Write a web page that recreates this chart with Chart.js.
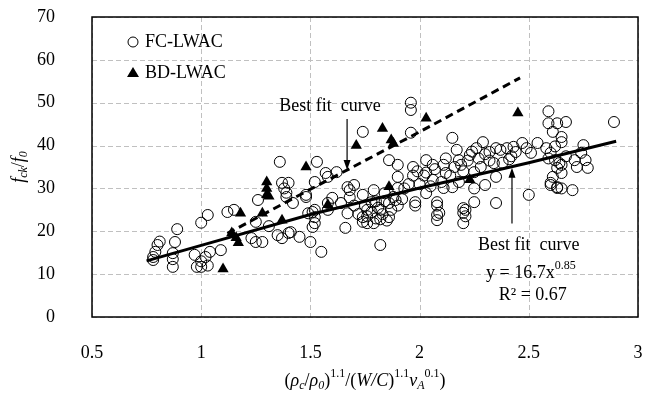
<!DOCTYPE html>
<html>
<head>
<meta charset="utf-8">
<script src="https://cdn.jsdelivr.net/npm/chart.js@4.4.1/dist/chart.umd.min.js"></script>
<style>
  html, body { margin: 0; padding: 0; background: #fff; }
  #wrap { width: 658px; height: 399px; }
</style>
</head>
<body>
<div id="wrap"><canvas id="fcChart" width="658" height="399"></canvas></div>
<script>
/* ===== f_ck/f_0 scatter with best fit curves ===== */

// FC-LWAC (open circles)
const fcX = [
  0.78, 0.79, 0.80, 0.81, 0.78, 0.87, 0.87, 0.88, 0.89, 0.87, 1.00, 1.03, 0.97, 0.98, 1.00, 1.03, 1.02, 1.04, 1.00, 1.09,
  1.12, 1.15, 1.25, 1.26, 1.23, 1.25, 1.28, 1.31, 1.35, 1.37, 1.40, 1.41, 1.38, 1.39, 1.39, 1.37, 1.40, 1.42, 1.45, 1.48,
  1.36, 1.53, 1.52, 1.58, 1.62, 1.57, 1.48, 1.52, 1.52, 1.52, 1.49, 1.50, 1.55, 1.51, 1.51, 1.58, 1.58, 1.60, 1.64, 1.66,
  1.67, 1.68, 1.68, 1.70, 1.74, 1.74, 1.74, 1.76, 1.76, 1.78, 1.79, 1.79, 1.82, 1.82, 1.82, 1.84, 1.86, 1.86, 1.89, 1.90,
  1.98, 1.98, 2.03, 2.08, 2.08, 2.08, 2.08, 2.09, 2.11, 2.15, 2.20, 2.20, 2.20, 2.21, 2.21, 2.25, 2.35, 2.30, 2.25, 2.50,
  2.60, 2.63, 2.65, 2.70, 1.70, 1.72, 1.75, 1.76, 1.78, 1.80, 1.80, 1.81, 1.83, 1.84, 1.85, 1.87, 1.88, 1.90, 1.92, 1.93,
  1.95, 1.97, 1.99, 1.74, 1.96, 1.96, 1.96, 2.15, 1.97, 2.03, 2.06, 2.03, 2.11, 2.12, 2.17, 2.18, 2.19, 2.23, 2.26, 2.29,
  2.25, 2.32, 2.34, 2.35, 2.35, 2.40, 2.44, 1.86, 1.90, 1.90, 2.06, 2.00, 2.02, 2.05, 2.07, 2.10, 2.12, 2.14, 2.16, 2.18,
  2.20, 2.22, 2.24, 2.27, 2.28, 2.30, 2.32, 2.37, 2.38, 2.41, 2.42, 2.59, 2.59, 2.63, 2.67, 2.61, 2.65, 2.65, 2.89, 2.43,
  2.47, 2.49, 2.51, 2.54, 2.58, 2.60, 2.62, 2.64, 2.65, 2.63, 2.65, 2.61, 2.60, 2.63, 2.74, 2.75, 2.72, 2.77, 2.76, 2.71,
  2.67, 2.59, 2.62, 1.67
];
const fcY = [
  13.3, 15.2, 16.8, 17.6, 14.0, 14.9, 11.7, 17.5, 20.5, 13.5, 22.0, 23.8, 14.5, 11.7, 11.7, 12.0, 14.0, 15.2, 13.0, 15.6,
  24.5, 25.0, 22.2, 27.3, 18.4, 17.5, 17.5, 21.2, 19.1, 18.4, 19.6, 19.8, 30.0, 29.0, 28.0, 31.3, 31.3, 26.6, 18.7, 28.5,
  36.2, 36.2, 31.5, 32.7, 33.8, 33.6, 28.0, 25.0, 23.3, 21.9, 24.2, 17.5, 15.2, 21.0, 24.5, 26.6, 25.0, 27.8, 26.6, 20.8,
  24.2, 29.6, 27.9, 30.8, 28.5, 23.3, 22.2, 25.0, 21.9, 26.8, 29.6, 21.9, 16.8, 25.0, 22.8, 28.9, 26.6, 23.3, 27.3, 30.1,
  26.8, 26.0, 28.9, 26.8, 26.0, 23.8, 22.6, 24.3, 30.1, 30.3, 25.4, 21.9, 24.3, 25.0, 23.5, 26.8, 26.6, 30.8, 30.0, 28.5,
  30.8, 30.1, 30.0, 29.6, 26.0, 24.0, 26.0, 23.5, 24.5, 27.0, 23.0, 25.5, 24.0, 27.0, 22.5, 25.0, 28.0, 26.0, 27.5, 30.0,
  31.0, 33.0, 34.0, 43.2, 50.0, 48.3, 43.0, 41.8, 35.0, 36.6, 35.5, 33.7, 35.5, 33.6, 39.0, 36.6, 35.5, 37.8, 39.4, 40.8,
  33.8, 38.5, 35.9, 39.4, 32.7, 39.4, 38.5, 36.6, 35.5, 32.7, 32.0, 31.0, 33.0, 30.5, 34.5, 31.5, 37.0, 33.0, 35.0, 31.5,
  34.0, 36.5, 38.6, 37.0, 35.0, 38.0, 36.5, 39.0, 36.0, 36.8, 37.5, 48.0, 45.2, 45.2, 45.5, 43.2, 42.0, 40.8, 45.5, 39.7,
  40.6, 39.4, 38.3, 40.6, 39.4, 38.3, 36.6, 35.9, 35.5, 34.8, 33.6, 32.7, 31.3, 30.3, 38.3, 40.1, 35.0, 34.8, 36.6, 36.6,
  37.5, 37.0, 39.8, 30.3
];

// BD-LWAC (filled triangles)
const bdX = [1.10, 1.14, 1.17, 1.16, 1.18, 1.28, 1.30, 1.30, 1.30, 1.31, 1.37, 1.48, 1.58, 1.71, 1.83, 1.87, 1.88, 1.86, 2.03, 2.23, 2.45];
const bdY = [11.2, 19.6, 17.3, 18.5, 24.2, 24.2, 31.5, 30.0, 28.5, 28.2, 22.6, 35.0, 26.2, 40.0, 44.0, 41.3, 40.5, 30.4, 46.4, 32.0, 47.6];

// best fit curve for all data (solid)
const fitX = [0.75, 1.0, 1.5, 2.0, 2.5, 2.9];
const fitY = [13.1, 16.7, 23.9, 30.1, 36.0, 41.0];

// best fit curve for BD-LWAC (dashed)
const bdFitX = [1.12, 1.5, 2.0, 2.46];
const bdFitY = [19.5, 29.8, 43.2, 55.8];

const xTicks = [0.5, 1, 1.5, 2, 2.5, 3];
const yTicks = [0, 10, 20, 30, 40, 50, 60, 70];

const SERIF = '"Liberation Serif", "Times New Roman", serif';

function toPoints(xs, ys) {
  return xs.map((x, i) => ({ x: x, y: ys[i] }));
}

// mixed text segments: [text, italic, pos] with pos 0 base, -1 sub, 1 sup
function fontFor(s) {
  const size = s[2] ? 12 : 18;
  return (s[1] ? 'italic ' : '') + size + 'px ' + SERIF;
}
function richWidth(ctx, segs) {
  let w = 0;
  segs.forEach(s => {
    ctx.font = fontFor(s);
    w += ctx.measureText(s[0]).width;
  });
  return w;
}
function drawRich(ctx, segs, cx, cy) {
  let x = cx - richWidth(ctx, segs) / 2;
  ctx.textAlign = 'left';
  ctx.textBaseline = 'middle';
  segs.forEach(s => {
    ctx.font = fontFor(s);
    const dy = s[2] === 1 ? -7 : (s[2] === -1 ? 5 : 0);
    ctx.fillText(s[0], x, cy + dy);
    x += ctx.measureText(s[0]).width;
  });
}

function arrow(ctx, x, y1, y2) {
  // line from y1 to y2 with head at y2
  const dir = y2 > y1 ? 1 : -1;
  ctx.beginPath();
  ctx.moveTo(x, y1);
  ctx.lineTo(x, y2 - dir * 8);
  ctx.lineWidth = 1.2;
  ctx.stroke();
  ctx.beginPath();
  ctx.moveTo(x, y2);
  ctx.lineTo(x - 3.5, y2 - dir * 10);
  ctx.lineTo(x + 3.5, y2 - dir * 10);
  ctx.closePath();
  ctx.fill();
}

// dashed grey grid behind the points
const dashGrid = {
  id: 'dashGrid',
  beforeDraw(chart) {
    const ctx = chart.ctx;
    const a = chart.chartArea;
    const xs = chart.scales.x, ys = chart.scales.y;
    ctx.save();
    ctx.strokeStyle = '#c0c0c0';
    ctx.lineWidth = 1;
    ctx.setLineDash([5, 3]);
    xTicks.forEach(v => {
      const px = Math.round(xs.getPixelForValue(v)) + 0.5;
      ctx.beginPath();
      ctx.moveTo(px, a.top);
      ctx.lineTo(px, a.bottom);
      ctx.stroke();
    });
    yTicks.forEach(v => {
      const py = Math.round(ys.getPixelForValue(v)) + 0.5;
      ctx.beginPath();
      ctx.moveTo(a.left, py);
      ctx.lineTo(a.right, py);
      ctx.stroke();
    });
    ctx.restore();
  }
};

const decor = {
  id: 'decor',
  afterDraw(chart) {
    const ctx = chart.ctx;
    const a = chart.chartArea;
    const xs = chart.scales.x, ys = chart.scales.y;
    ctx.save();
    ctx.fillStyle = '#000';
    ctx.strokeStyle = '#000';

    // plot frame
    ctx.lineWidth = 1.5;
    ctx.strokeRect(a.left, a.top, a.right - a.left, a.bottom - a.top);

    // legend
    const lx = a.left + 41;
    ctx.lineWidth = 1;
    ctx.beginPath();
    ctx.arc(lx, a.top + 25, 5, 0, Math.PI * 2);
    ctx.stroke();
    ctx.beginPath();
    ctx.moveTo(lx, a.top + 50);
    ctx.lineTo(lx - 6, a.top + 60);
    ctx.lineTo(lx + 6, a.top + 60);
    ctx.closePath();
    ctx.fill();
    ctx.font = '18px ' + SERIF;
    ctx.textAlign = 'left';
    ctx.textBaseline = 'middle';
    ctx.fillText('FC-LWAC', lx + 12, a.top + 25);
    ctx.fillText('BD-LWAC', lx + 12, a.top + 56);

    // upper annotation
    ctx.textAlign = 'center';
    ctx.fillText('Best fit  curve', xs.getPixelForValue(1.59), ys.getPixelForValue(49.2));
    arrow(ctx, xs.getPixelForValue(1.668), ys.getPixelForValue(46.2), ys.getPixelForValue(34.3));

    // lower annotation
    const tx = xs.getPixelForValue(2.5);
    ctx.fillText('Best fit  curve', tx, ys.getPixelForValue(16.8));
    drawRich(ctx, [['y = 16.7x', false, 0], ['0.85', false, 1]], tx + 2, ys.getPixelForValue(10.3));
    ctx.textAlign = 'center';
    ctx.font = '18px ' + SERIF;
    ctx.fillText('R\u00B2 = 0.67', tx + 4, ys.getPixelForValue(5.1));
    arrow(ctx, xs.getPixelForValue(2.423), ys.getPixelForValue(21.8), ys.getPixelForValue(34.8));

    // x axis title
    drawRich(ctx, [
      ['(', false, 0], ['\u03C1', true, 0], ['c', true, -1], ['/', false, 0], ['\u03C1', true, 0], ['0', true, -1],
      [')', false, 0], ['1.1', false, 1], ['/(', false, 0], ['W/C', true, 0], [')', false, 0], ['1.1', false, 1],
      ['v', true, 0], ['A', true, -1], ['0.1', false, 1], [')', false, 0]
    ], (a.left + a.right) / 2, 381);

    // y axis title
    ctx.translate(19, (a.top + a.bottom) / 2);
    ctx.rotate(-Math.PI / 2);
    drawRich(ctx, [['f', true, 0], ['ck', true, -1], ['/', false, 0], ['f', true, 0], ['0', true, -1]], 0, 0);
    ctx.restore();
  }
};

new Chart(document.getElementById('fcChart'), {
  type: 'scatter',
  data: {
    datasets: [
      {
        label: 'Best fit curve',
        data: toPoints(fitX, fitY),
        showLine: true,
        borderColor: '#000',
        borderWidth: 3,
        pointRadius: 0,
        order: 0
      },
      {
        label: 'BD best fit curve',
        data: toPoints(bdFitX, bdFitY),
        showLine: true,
        borderColor: '#000',
        borderWidth: 3,
        borderDash: [8, 5],
        pointRadius: 0,
        order: 0
      },
      {
        label: 'BD-LWAC',
        data: toPoints(bdX, bdY),
        pointStyle: 'triangle',
        pointRadius: 6.5,
        backgroundColor: '#000',
        borderColor: '#000',
        borderWidth: 0,
        order: 1
      },
      {
        label: 'FC-LWAC',
        data: toPoints(fcX, fcY),
        pointStyle: 'circle',
        pointRadius: 5.5,
        backgroundColor: 'rgba(0,0,0,0)',
        borderColor: '#000',
        borderWidth: 1,
        order: 2
      }
    ]
  },
  options: {
    responsive: false,
    animation: false,
    layout: { padding: { top: 17, right: 20, left: 0, bottom: 0 } },
    plugins: {
      legend: { display: false },
      tooltip: { enabled: false }
    },
    scales: {
      x: {
        type: 'linear',
        min: xTicks[0],
        max: xTicks[xTicks.length - 1],
        afterBuildTicks: s => { s.ticks = xTicks.map(v => ({ value: v })); },
        afterFit: s => { s.height = 82; s.paddingLeft = 0; s.paddingRight = 0; },
        border: { display: false },
        grid: { display: false },
        ticks: {
          padding: 17,
          color: '#000',
          font: { family: SERIF, size: 18 },
          callback: v => String(v)
        }
      },
      y: {
        type: 'linear',
        min: yTicks[0],
        max: yTicks[yTicks.length - 1],
        afterBuildTicks: s => { s.ticks = yTicks.map(v => ({ value: v })); },
        afterFit: s => { s.width = 92; s.paddingTop = 0; s.paddingBottom = 0; },
        border: { display: false },
        grid: { display: false },
        ticks: {
          padding: 29,
          color: '#000',
          font: { family: SERIF, size: 18 },
          callback: v => String(v)
        }
      }
    }
  },
  plugins: [dashGrid, decor]
});
</script>
</body>
</html>
